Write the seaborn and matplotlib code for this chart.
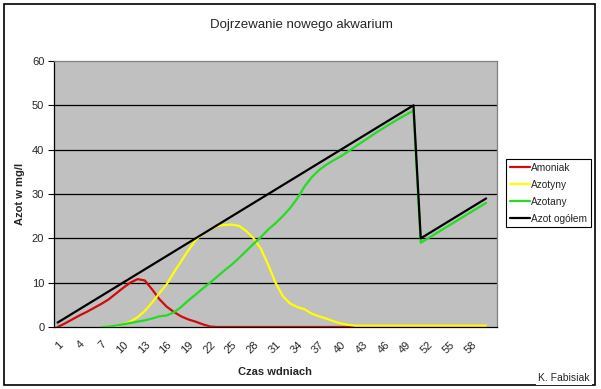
import numpy as np
import pandas as pd
import matplotlib
matplotlib.use("Agg")
import matplotlib.pyplot as plt
import seaborn as sns
from matplotlib.ticker import FixedLocator, NullFormatter
from matplotlib.patches import Rectangle

days = list(range(1, 61))

amoniak = [0, 0.8, 1.7, 2.6, 3.4, 4.3, 5.2, 6.2, 7.5, 8.8, 10.0, 10.8, 10.5, 8.5,
           6.3, 4.6, 3.4, 2.4, 1.7, 1.2, 0.6, 0.1] + [0] * 38

azotyny = [np.nan] * 6 + [0.0, 0.1, 0.2, 0.6, 1.2, 2.2, 3.6, 5.5, 7.6, 9.6, 12.3, 14.8,
           17.3, 19.6, 21.0, 22.0, 22.8, 23.0, 23.1, 22.8, 21.6, 20.0, 17.6, 14.0,
           10.0, 7.0, 5.3, 4.5, 4.0, 3.0, 2.4, 1.9, 1.3, 0.8, 0.5] + [0.3] * 19

azotany = [np.nan] * 6 + [0.0, 0.1, 0.3, 0.6, 0.9, 1.2, 1.5, 1.9, 2.4, 2.6, 3.3, 4.5,
           6.0, 7.3, 8.7, 10.0, 11.4, 12.8, 14.1, 15.6, 17.2, 18.8, 20.3, 22.0,
           23.4, 25.0, 26.8, 29.0, 31.7, 33.8, 35.4,
           36.6, 37.6, 38.5, 39.6, 40.7, 41.8, 42.9, 44.0, 45.0, 46.0, 47.0, 47.9, 48.8,
           19.0, 20.0, 21.0, 22.0, 23.0, 24.0, 25.0, 26.0, 27.0, 28.0]

azot_ogolem = [float(d) for d in range(1, 51)] + [20.0, 21.0, 22.0, 23.0, 24.0, 25.0,
                                                  26.0, 27.0, 28.0, 29.0]

series_names = ["Amoniak", "Azotyny", "Azotany", "Azot ogółem"]
colors = ["#D40A0A", "#FFFF00", "#22DD22", "#000000"]

frames = []
for name, vals in zip(series_names, [amoniak, azotyny, azotany, azot_ogolem]):
    frames.append(pd.DataFrame({"dzien": days, "wartosc": vals, "seria": name}))
df = pd.concat(frames, ignore_index=True)

sns.set_style("white")
plt.rcParams["font.family"] = ["Liberation Sans", "DejaVu Sans"]

fig = plt.figure(figsize=(6.01, 3.89), dpi=100)
ax = fig.add_axes([54 / 601, 1 - 327 / 389, (497 - 54) / 601, (327 - 61) / 389])
ax.set_facecolor("#C0C0C0")

for name, col in zip(series_names, colors):
    sub = df[df["seria"] == name]
    sns.lineplot(data=sub, x="dzien", y="wartosc", color=col, linewidth=1.6,
                 ax=ax, label=name, zorder=3)

ax.set_xlim(0.5, 61.5)
ax.set_ylim(0, 60)
ax.set_yticks(range(0, 61, 10))
for yv in range(10, 60, 10):
    ax.axhline(yv, color="black", linewidth=0.9, zorder=1)

ax.set_xticks(list(range(1, 61, 3)))
ax.set_xticklabels([str(v) for v in range(1, 61, 3)], rotation=45, ha="right",
                   rotation_mode="anchor", fontsize=8)
ax.xaxis.set_minor_locator(FixedLocator([0.5 + k for k in range(62)]))
ax.xaxis.set_minor_formatter(NullFormatter())
ax.tick_params(axis="x", which="major", length=0, pad=9)
ax.tick_params(axis="x", which="minor", length=4, width=0.8, color="black", direction="out")
ax.tick_params(axis="y", which="major", length=4, width=0.8, color="black",
               direction="out", labelsize=8, pad=3)
ax.tick_params(axis="both", bottom=True, left=True)

for s in ["left", "bottom"]:
    ax.spines[s].set_color("black")
    ax.spines[s].set_linewidth(0.9)
for s in ["top", "right"]:
    ax.spines[s].set_color("#808080")
    ax.spines[s].set_linewidth(0.9)

ax.set_xlabel("Czas wdniach", fontsize=8, fontweight="bold", labelpad=8)
ax.set_ylabel("Azot w mg/l", fontsize=8, fontweight="bold", labelpad=5)

leg = ax.legend(loc="upper left", bbox_to_anchor=(506 / 601, 1 - 159 / 389),
                bbox_transform=fig.transFigure, fontsize=7.3, frameon=True,
                fancybox=False, edgecolor="black", framealpha=1,
                handlelength=2.0, handletextpad=0.15, borderpad=0.35,
                labelspacing=0.7, borderaxespad=0)
leg.get_frame().set_linewidth(0.8)

fig.text(301 / 601, 1 - 25 / 389, "Dojrzewanie nowego akwarium", ha="center",
         va="center", fontsize=9.5)

fig.patches.append(Rectangle((4 / 601, 1 - 385 / 389), 591 / 601, 381 / 389,
                             transform=fig.transFigure, fill=False,
                             edgecolor="black", linewidth=1.2, zorder=0))
fig.text(564 / 601, 1 - 378 / 389, "K. Fabisiak", ha="center", va="center",
         fontsize=7.5, bbox=dict(facecolor="white", edgecolor="none", pad=1.5),
         zorder=5)

fig.savefig("out.png", dpi=100, facecolor="white")
